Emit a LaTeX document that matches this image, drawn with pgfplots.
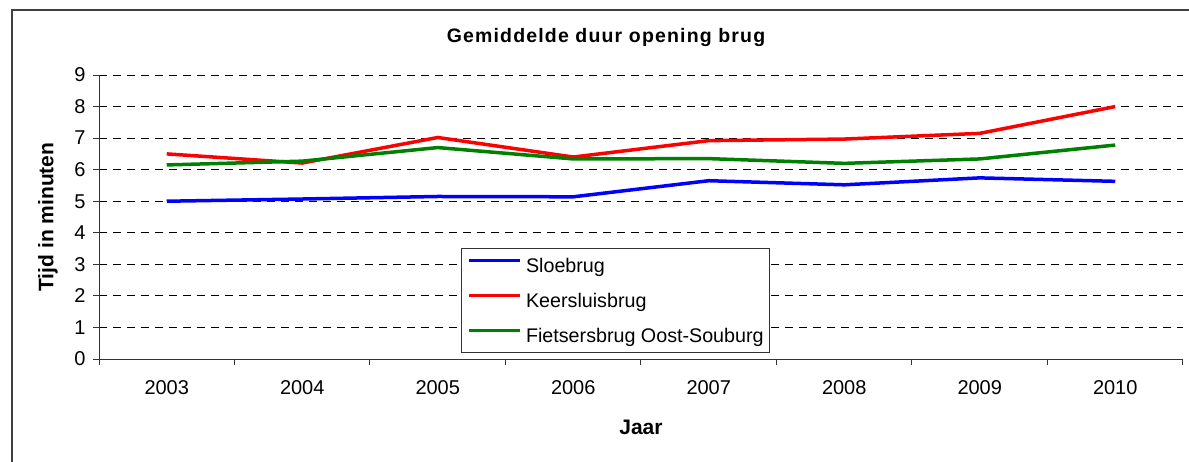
\documentclass[border=0pt]{standalone}
\usepackage{fontspec}
\setmainfont{Liberation Sans}
\usepackage{pgfplots}
\pgfplotsset{compat=1.18}
\begin{document}
\begin{tikzpicture}[x=1pt,y=1pt]
\useasboundingbox (0,0) rectangle (1189,461);
\draw[line width=2pt, black!75] (11.5,-5) -- (11.5,450.5) -- (1195,450.5);
\begin{axis}[
  at={(99pt,102pt)}, anchor=south west,
  scale only axis, width=1084pt, height=284pt,
  xmin=-0.5, xmax=7.5, ymin=0, ymax=9,
  axis lines=left, axis line style={-, line width=1pt, black!80},
  xtick={0,1,2,3,4,5,6,7},
  xticklabels={2003,2004,2005,2006,2007,2008,2009,2010},
  minor xtick={-0.5,0.5,1.5,2.5,3.5,4.5,5.5,6.5,7.5},
  major x tick style={draw=none},
  minor x tick style={line width=1pt, black!80},
  minor tick length=6pt,
  ytick={0,1,...,9},
  major y tick style={line width=1pt, black!80},
  major tick length=6pt,
  tick align=outside,
  ymajorgrids,
  grid style={dash pattern=on 8pt off 6pt, line width=1pt, black},
  /pgf/number format/assume math mode=true,
  tick label style={font=\fontsize{20}{24}\selectfont},
  xticklabel style={anchor=base, yshift=-29pt},
  yticklabel style={anchor=east, xshift=-4pt},
  xlabel={Jaar},
  xlabel style={at={(axis description cs:0.5,-0.2394)}, anchor=center, font=\bfseries\fontsize{21}{25}\selectfont},
  ylabel={Tijd in minuten},
  ylabel style={at={(axis description cs:-0.047,0.5)}, anchor=center, font=\bfseries\fontsize{21}{25}\selectfont},
  title={Gemiddelde duur opening brug},
  title style={at={(axis description cs:0.4677,1.095)}, anchor=base, font=\bfseries\fontsize{19.5}{24}\selectfont\addfontfeature{LetterSpace=6}},
  legend style={at={(axis description cs:0.334,0.391)}, anchor=north west,
    draw=black!80, line width=1pt, fill=white,
    inner xsep=6pt, inner ysep=7pt, column sep=4pt, row sep=15pt,
    nodes={inner sep=0pt, text height=17pt, text depth=3pt},
    font=\fontsize{19.7}{24}\selectfont},
  legend cell align=left,
  legend image code/.code={\draw[#1, line width=3.5pt] (0pt,5pt) -- (51pt,5pt);},
]
\addplot[color={rgb,255:red,0;green,0;blue,255}, line width=3.5pt] coordinates {
 (0,5.00) (1,5.07) (2,5.15) (3,5.14) (4,5.65) (5,5.52) (6,5.74) (7,5.63)};
\addlegendentry{Sloebrug}
\addplot[color={rgb,255:red,255;green,0;blue,0}, line width=3.5pt] coordinates {
 (0,6.50) (1,6.21) (2,7.02) (3,6.40) (4,6.92) (5,6.97) (6,7.15) (7,8.00)};
\addlegendentry{Keersluisbrug}
\addplot[color={rgb,255:red,0;green,128;blue,0}, line width=3.5pt] coordinates {
 (0,6.15) (1,6.27) (2,6.70) (3,6.34) (4,6.35) (5,6.20) (6,6.34) (7,6.78)};
\addlegendentry{Fietsersbrug Oost-Souburg}
\end{axis}
\end{tikzpicture}
\end{document}
